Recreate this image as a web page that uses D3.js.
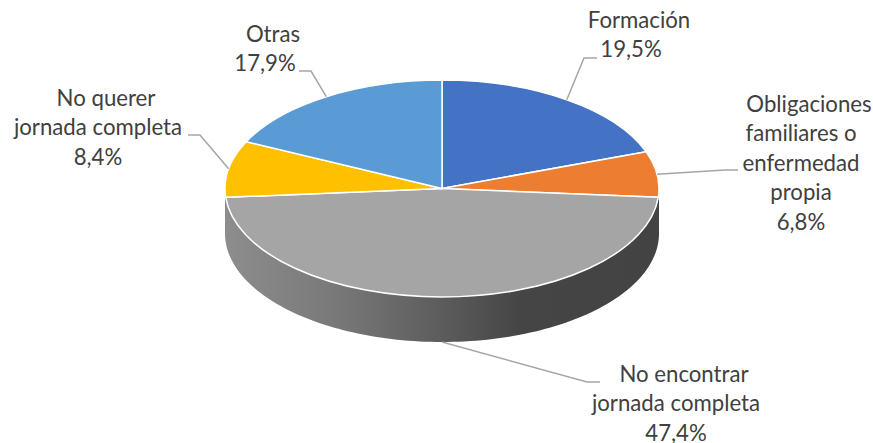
<!DOCTYPE html>
<html><head><meta charset="utf-8">
<script src="https://cdn.jsdelivr.net/npm/d3@7"></script>
<style>html,body{margin:0;padding:0;background:#fff}svg{display:block}text{font-family:Lato,"Open Sans",sans-serif;font-size:22.2px;fill:#404040}</style>
</head><body><svg id="c" width="873" height="443"></svg>
<script>
const categories=["Formación","Obligaciones familiares o enfermedad propia","No encontrar jornada completa","No querer jornada completa","Otras"];
const values=[19.5,6.8,47.4,8.4,17.9];
const valueLabels=["19,5%","6,8%","47,4%","8,4%","17,9%"];
const colors=["#4472C4","#ED7D31","#A5A5A5","#FFC000","#5B9BD5"];
const labelLines=[["Formación"],["Obligaciones","familiares o","enfermedad","propia"],["No encontrar","jornada completa"],["No querer","jornada completa"],["Otras"]];
const labelX=[631,801,676,98,265];
const labelTop=[28,112,382,106,42];
const firstLineShift=8;
const elbows=[[[584,58],[597,58]],[[725,170],[738,170]],[[587,382],[600,382]],[[200,135],[188,135]],[[311,71],[299,71]]];
const cx=442,cy=188.5,rx=217,ry=108.5,depth=45,lh=29.4;

const svg=d3.select("#c");
const defs=svg.append("defs");
const g=defs.append("linearGradient").attr("id","side").attr("gradientUnits","userSpaceOnUse")
 .attr("x1",cx-rx).attr("x2",cx+rx).attr("y1",0).attr("y2",0);
[[0,"#8d8d8d"],[.25,"#797979"],[.5,"#5c5c5c"],[.68,"#454545"],[1,"#434343"]].forEach(s=>g.append("stop").attr("offset",s[0]).attr("stop-color",s[1]));

const pie=d3.pie().sort(null).value(d=>d)(values);
const px=a=>cx+rx*Math.sin(a), py=a=>cy-ry*Math.cos(a);

// side wall of the near half
const N=120, wall=d3.range(N+1).map(i=>Math.PI/2+Math.PI*i/N);
const line=d3.line();
const upper=wall.map(a=>[px(a),py(a)]);
const lower=wall.map(a=>[px(a),py(a)+depth]).reverse();
svg.append("path").attr("d",line(upper.concat(lower))+"Z").attr("fill","url(#side)");

// top face
const R=100, arc=d3.arc().innerRadius(0).outerRadius(R);
svg.append("g").attr("transform",`translate(${cx},${cy}) scale(${rx/R},${ry/R})`)
 .selectAll("path").data(pie).join("path").attr("d",arc)
 .attr("fill",(d,i)=>colors[i]).attr("stroke","#fff").attr("stroke-width",1.5)
 .attr("stroke-linejoin","round").attr("vector-effect","non-scaling-stroke");

// leader lines
pie.forEach((d,i)=>{
 const m=(d.startAngle+d.endAngle)/2;
 const a=[px(m),py(m)+(i===2?depth:0)];
 svg.append("path").attr("d",line([a,...elbows[i]])).attr("fill","none").attr("stroke","#A6A6A6").attr("stroke-width",1.5);
});

// labels
categories.forEach((c,i)=>{
 const t=svg.append("text").attr("text-anchor","middle");
 const ls=[...labelLines[i],valueLabels[i]];
 ls.forEach((s,j)=>t.append("tspan").attr("x",labelX[i]+(j===0?firstLineShift:0)).attr("y",labelTop[i]+j*lh).text(s));
});
</script></body></html>
